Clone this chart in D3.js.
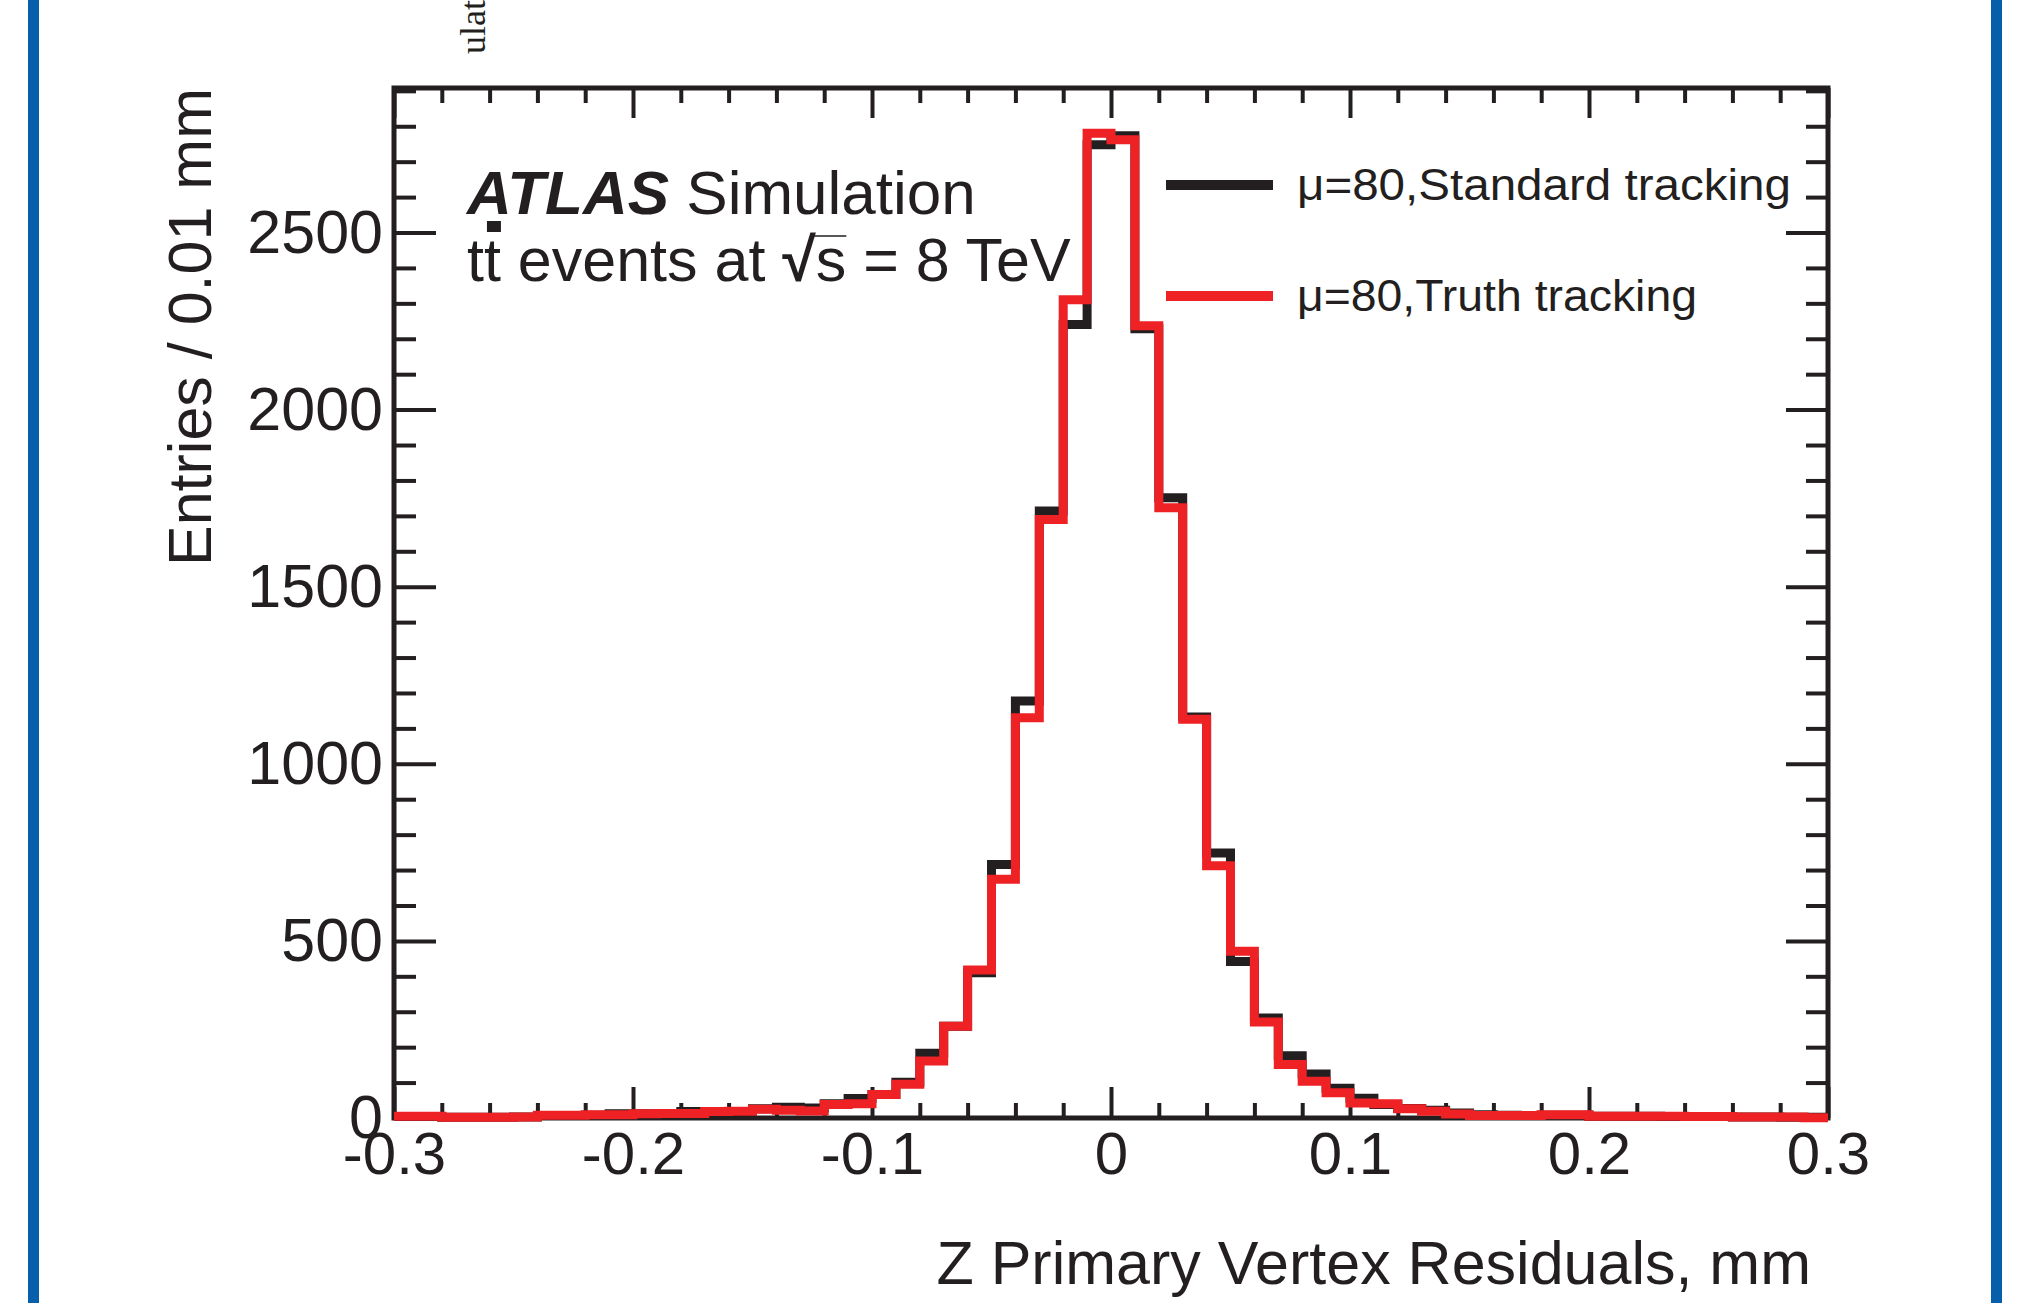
<!DOCTYPE html>
<html><head><meta charset="utf-8">
<script src="https://cdn.jsdelivr.net/npm/d3@7"></script>
<style>html,body{margin:0;padding:0;background:#fff;} svg{display:block;}</style>
</head><body>
<script>
// ---- data ----
const xDomain = [-0.3, 0.3];
const binWidth = 0.01;
const standardCounts = [4,4,2,2,2,3,7,7,8,12, 12,12,18,16,17,26,30,28,40,55,
  66,101,183,259,410,716,1177,1714,2240,2748, 2773,2228,1751,1132,748,442,282,176,124,84,
  56,38,27,22,14,9,8,7,8,8, 5,5,5,4,4,4,3,3,2,2];
const truthCounts = [5,5,2,2,2,3,8,8,9,9, 12,13,13,18,19,25,22,20,38,40,
  66,95,161,259,418,674,1130,1690,2310,2780, 2762,2237,1723,1126,712,471,271,151,104,71,
  42,40,26,19,11,7,7,7,9,9, 5,5,5,5,4,4,3,3,3,1];
const xTickValues = [-0.3,-0.2,-0.1,0,0.1,0.2,0.3];
const xTickLabels = ["-0.3","-0.2","-0.1","0","0.1","0.2","0.3"];
const yTickValues = [0,500,1000,1500,2000,2500];
const yTickLabels = ["0","500","1000","1500","2000","2500"];
const yMax = 2908;
const seriesNames = ["\u03bc=80,Standard tracking","\u03bc=80,Truth tracking"];
const seriesColors = ["#231f20","#ee2124"];

// ---- layout ----
const W = 2021, H = 1303;
const M = {left:394, right:1828, top:88, bottom:1118};
const ink = "#231f20";
const FONT = "'Liberation Sans', Arial, Helvetica, sans-serif";

const svg = d3.select("body").append("svg").attr("width",W).attr("height",H);
svg.append("rect").attr("width",W).attr("height",H).attr("fill","#fff");
svg.append("rect").attr("x",28).attr("y",0).attr("width",11).attr("height",H).attr("fill","#075fac");
svg.append("rect").attr("x",1991).attr("y",0).attr("width",11).attr("height",H).attr("fill","#075fac");

// clipped page text fragment
svg.append("text").attr("transform","translate(485,54) rotate(-90)")
  .attr("font-family","'Liberation Serif','DejaVu Serif',serif").attr("font-size",36)
  .attr("fill",ink).text("ulat");

const x = d3.scaleLinear().domain(xDomain).range([M.left, M.right]);
const y = d3.scaleLinear().domain([0, yMax]).range([M.bottom, M.top]);

const xMinor = d3.range(-15,16).filter(i => i % 5 !== 0).map(i => i*0.02);
const yMinor = d3.range(1,30).filter(i => i % 5 !== 0).map(i => i*100);

function styleAxis(g, fs){
  g.select(".domain").remove();
  g.selectAll(".tick line").attr("stroke",ink).attr("stroke-width",4);
  g.selectAll(".tick text").attr("fill",ink).attr("font-size",fs).attr("font-family",FONT);
}
// bottom
svg.append("g").attr("transform",`translate(0,${M.bottom})`)
  .call(d3.axisBottom(x).tickValues(xTickValues).tickFormat((d,i)=>xTickLabels[i]).tickSizeInner(-31).tickSizeOuter(0).tickPadding(13))
  .call(g=>styleAxis(g,60));
svg.append("g").attr("transform",`translate(0,${M.bottom})`)
  .call(d3.axisBottom(x).tickValues(xMinor).tickFormat("").tickSizeInner(-15).tickSizeOuter(0))
  .call(g=>styleAxis(g,60));
// top
svg.append("g").attr("transform",`translate(0,${M.top})`)
  .call(d3.axisTop(x).tickValues(xTickValues).tickFormat("").tickSizeInner(-30).tickSizeOuter(0))
  .call(g=>styleAxis(g,60));
svg.append("g").attr("transform",`translate(0,${M.top})`)
  .call(d3.axisTop(x).tickValues(xMinor).tickFormat("").tickSizeInner(-15).tickSizeOuter(0))
  .call(g=>styleAxis(g,60));
// left
svg.append("g").attr("transform",`translate(${M.left},0)`)
  .call(d3.axisLeft(y).tickValues(yTickValues).tickFormat((d,i)=>yTickLabels[i]).tickSizeInner(-42).tickSizeOuter(0).tickPadding(11))
  .call(g=>styleAxis(g,61));
svg.append("g").attr("transform",`translate(${M.left},0)`)
  .call(d3.axisLeft(y).tickValues(yMinor).tickFormat("").tickSizeInner(-22).tickSizeOuter(0))
  .call(g=>styleAxis(g,61));
// right
svg.append("g").attr("transform",`translate(${M.right},0)`)
  .call(d3.axisRight(y).tickValues(yTickValues).tickFormat("").tickSizeInner(-42).tickSizeOuter(0))
  .call(g=>styleAxis(g,61));
svg.append("g").attr("transform",`translate(${M.right},0)`)
  .call(d3.axisRight(y).tickValues(yMinor).tickFormat("").tickSizeInner(-22).tickSizeOuter(0))
  .call(g=>styleAxis(g,61));

// frame
svg.append("rect").attr("x",M.left).attr("y",M.top).attr("width",M.right-M.left).attr("height",M.bottom-M.top)
  .attr("fill","none").attr("stroke",ink).attr("stroke-width",5);

// histograms
const line = d3.line().x(d=>x(d[0])).y(d=>y(d[1])).curve(d3.curveStepAfter);
function histPts(counts){
  const pts = counts.map((v,i)=>[xDomain[0] + i*binWidth, v]);
  pts.push([xDomain[1], counts[counts.length-1]]);
  return pts;
}
[standardCounts, truthCounts].forEach((c,k)=>{
  svg.append("path").attr("d", line(histPts(c))).attr("fill","none")
    .attr("stroke",seriesColors[k]).attr("stroke-width",9).attr("stroke-linejoin","miter").attr("stroke-linecap","butt");
});

// legend
const legY = [185, 296];
const legTextY = [200, 311];
const legW = [494, 400];
seriesNames.forEach((n,k)=>{
  svg.append("line").attr("x1",1166).attr("x2",1273).attr("y1",legY[k]).attr("y2",legY[k])
    .attr("stroke",seriesColors[k]).attr("stroke-width",10);
  svg.append("text").attr("x",1297).attr("y",legTextY[k]).attr("font-family",FONT).attr("font-size",45)
    .attr("fill",ink).attr("textLength",legW[k]).attr("lengthAdjust","spacingAndGlyphs").text(n);
});

// labels
const t1 = svg.append("text").attr("x",467).attr("y",214).attr("font-family",FONT).attr("font-size",62).attr("fill",ink);
t1.append("tspan").attr("font-weight","bold").attr("font-style","italic").text("ATLAS");
t1.append("tspan").text(" Simulation");

const t2 = svg.append("text").attr("x",467).attr("y",281).attr("font-family",FONT).attr("font-size",61).attr("fill",ink);
t2.append("tspan").text("tt events at ");
t2.append("tspan").attr("font-weight","bold").text("\u221A");
t2.append("tspan").text("s = 8 TeV");
const tn = t2.node();
const e1 = tn.getExtentOfChar(1);
svg.append("rect").attr("x",e1.x+3).attr("y",221).attr("width",Math.max(e1.width-3,14)).attr("height",11).attr("fill",ink);
const sIdx = 14;
const es = tn.getExtentOfChar(sIdx);
const er = tn.getExtentOfChar(sIdx-1);
svg.append("line").attr("x1",er.x+er.width-3).attr("x2",es.x+es.width).attr("y1",236).attr("y2",236)
  .attr("stroke",ink).attr("stroke-width",1.5);

// axis titles
svg.append("text").attr("x",1811).attr("y",1284).attr("text-anchor","end").attr("font-family",FONT).attr("font-size",61)
  .attr("fill",ink).text("Z Primary Vertex Residuals, mm");
svg.append("text").attr("transform",`translate(211,${M.top}) rotate(-90)`).attr("text-anchor","end")
  .attr("font-family",FONT).attr("font-size",61).attr("fill",ink).text("Entries / 0.01 mm");
</script>
</body></html>
